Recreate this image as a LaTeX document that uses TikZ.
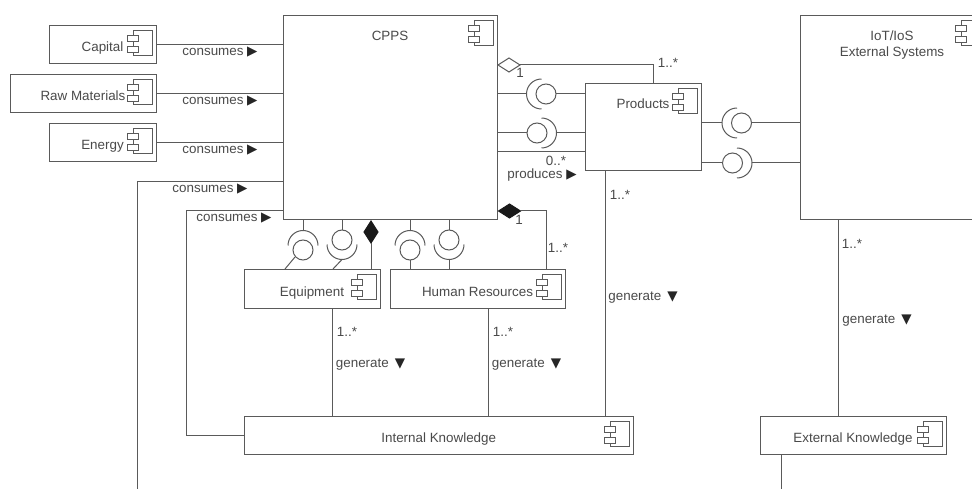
\documentclass[tikz,border=0pt]{standalone}
\usepackage{fontspec}
\usepackage{xcolor}
\usetikzlibrary{positioning,shapes.geometric}
\setmainfont{Liberation Sans}
\newfontfamily\symbfont{DejaVu Sans}
\definecolor{umlline}{HTML}{5A5A5A}
\definecolor{umltext}{HTML}{4A4A4A}
\newcommand{\rarr}{{\symbfont\color{black!85}▶}}
\newcommand{\darr}{{\symbfont\color{black!85}▼}}
\tikzset{
  pics/compicon/.style={code={
    \draw[fill=white] (-23,5) rectangle (-4,30);
    \draw[fill=white] (-29,10) rectangle (-18,16);
    \draw[fill=white] (-29,21) rectangle (-18,27);
  }},
  pics/ballsock/.style={code={
    \draw (0,-15) arc[start angle=90,end angle=270,radius=15pt];
    \draw (4.5,0) circle[radius=10pt];
    \coordinate (-sock) at (-15,0);
    \coordinate (-ball) at (14.5,0);
  }}
}
\begin{document}
\begin{tikzpicture}[
  x=1pt,y=-1pt,
  line width=1pt,color=umlline,
  box/.style={draw=umlline,rectangle,fill=white,inner sep=0pt,outer sep=0pt,align=center,text=umltext,text height=15pt,text depth=0pt,font=\fontsize{13.4}{16}\selectfont},
  lbl/.style={inner sep=0pt,text=umltext,align=center,font=\fontsize{13.4}{16}\selectfont},
  aggr/.style={diamond,draw=umlline,inner sep=0pt,outer sep=0pt,minimum width=22pt,minimum height=14pt},
  comp/.style={aggr,fill=black!90,draw=black!90},
  vcomp/.style={comp,minimum width=14pt,minimum height=22pt}
]
\useasboundingbox (0,0) rectangle (972,489);
\clip (0,0) rectangle (972,489);
% inputs on the left
\node[box,minimum width=107pt,minimum height=38pt] (capital) at (102.5,44.3) {Capital};
\node[box,minimum width=146pt,minimum height=38pt,below=11pt of capital.south east,anchor=north east] (raw) {Raw Materials};
\node[box,minimum width=107pt,minimum height=38pt,below=11pt of raw.south east,anchor=north east] (energy) {Energy};
% large components
\node[box,minimum width=214pt,minimum height=204pt] (cpps) at (390,117.5) {};
\node[box,minimum width=116pt,minimum height=87pt] (products) at (643,127.5) {};
\node[box,minimum width=184pt,minimum height=204pt] (iot) at (892,117.5) {};
\node[lbl,below=15pt of cpps.north] (cppsname) {CPPS};
\node[lbl,below=14.5pt of products.north] (productsname) {Products};
\node[lbl,below=15pt of iot.north] (iotname) {IoT/IoS\\External Systems};
% lower components
\node[box,minimum width=136pt,minimum height=39pt] (equipment) at (312,288.5) {Equipment};
\node[box,minimum width=175pt,minimum height=39pt,right=10pt of equipment] (human) {Human Resources};
\node[box,minimum width=389.5pt,minimum height=38pt] (internal) at (438.75,435) {Internal Knowledge};
\node[box,minimum width=186pt,minimum height=38pt] (external) at (853,435) {External Knowledge};
% component icons
\foreach \comp in {capital,raw,energy,cpps,products,iot,equipment,human,internal,external}
  \pic at (\comp.north east) {compicon};
% inputs
\draw (capital.east) -- (capital.east -| cpps.west);
\draw (raw.east) -- (raw.east -| cpps.west);
\draw (energy.east) -- (energy.east -| cpps.west);
\coordinate (outer) at (137,489);
\draw (cpps.west |- 0,182) -| (outer);
\draw (cpps.west |- 0,211) -| (186,435) -- (internal.west);
\node[lbl] (cons1) at (220,52) {consumes \rarr};
\node[lbl] (cons2) at (220,101) {consumes \rarr};
\node[lbl] (cons3) at (220,150) {consumes \rarr};
\node[lbl] (cons4) at (210,189) {consumes \rarr};
\node[lbl] (cons5) at (234,218) {consumes \rarr};
% cpps and products
\node[aggr,fill=white] (agg) at (509,65) {};
\draw (agg.east) -| ([xshift=10pt]products.north);
\node[lbl] (aggone) at (520,73) {1};
\node[lbl] (aggmany) at (668,63) {1..*};
\pic (ps) at (541.5,94) {ballsock};
\draw (cpps.east |- ps-sock) -- (ps-sock);
\draw (ps-ball) -- (products.west |- ps-ball);
\pic[rotate=180] (pr) at (541.5,133) {ballsock};
\draw (cpps.east |- pr-ball) -- (pr-ball);
\draw (pr-sock) -- (products.west |- pr-sock);
\draw (cpps.east |- 0,152) -- (products.west |- 0,152);
\node[lbl] (prodmany) at (556,161) {0..*};
\node[lbl] (prodname) at (542,175) {produces \rarr};
% products and iot
\pic (is) at (737,123) {ballsock};
\draw (products.east |- is-sock) -- (is-sock);
\draw (is-ball) -- (iot.west |- is-ball);
\pic[rotate=180] (ir) at (737,163) {ballsock};
\draw (products.east |- ir-ball) -- (ir-ball);
\draw (ir-sock) -- (iot.west |- ir-sock);
% equipment
\pic[rotate=-90] (ea) at (303,245.5) {ballsock};
\draw (ea-sock) -- (ea-sock |- cpps.south);
\draw ([shift={(-8pt,3pt)}]ea-ball) -- ([xshift=41pt]equipment.north west);
\pic[rotate=90] (eb) at (342,244.5) {ballsock};
\draw (eb-ball) -- (eb-ball |- cpps.south);
\draw (eb-sock) -- ([xshift=89pt]equipment.north west);
\node[vcomp] (eqdia) at (371,232) {};
\draw (eqdia.south) -- (eqdia.south |- equipment.north);
% human resources
\pic[rotate=-90] (ha) at (410,245.5) {ballsock};
\draw (ha-sock) -- (ha-sock |- cpps.south);
\draw (ha-ball) -- (ha-ball |- human.north);
\pic[rotate=90] (hb) at (449,244.5) {ballsock};
\draw (hb-ball) -- (hb-ball |- cpps.south);
\draw (hb-sock) -- (hb-sock |- human.north);
\node[comp] (hrdia) at (509.5,211) {};
\draw (hrdia.east) -| ([xshift=68.5pt]human.north);
\node[lbl] (hrone) at (519,220) {1};
\node[lbl] (hrmany) at (558,248) {1..*};
% knowledge links
\draw (equipment.south -| 332,0) -- (internal.north -| 332,0);
\node[lbl] (eqmany) at (347,332) {1..*};
\node[lbl] (eqgen) at (370.5,365) {generate\hspace{6pt}\darr};
\draw (human.south -| 488,0) -- (internal.north -| 488,0);
\node[lbl] (hrmanyb) at (503,332) {1..*};
\node[lbl] (hrgen) at (526.5,365) {generate\hspace{6pt}\darr};
\draw (products.south -| 605,0) -- (internal.north -| 605,0);
\node[lbl] (prmany) at (620,195) {1..*};
\node[lbl] (prgen) at (643,298) {generate\hspace{6pt}\darr};
\draw (iot.south -| 838,0) -- (external.north -| 838,0);
\node[lbl] (iotmany) at (852,244) {1..*};
\node[lbl] (iotgen) at (877,321) {generate\hspace{6pt}\darr};
\coordinate (extdown) at (781,489);
\draw (external.south -| extdown) -- (extdown);
\end{tikzpicture}
\end{document}
